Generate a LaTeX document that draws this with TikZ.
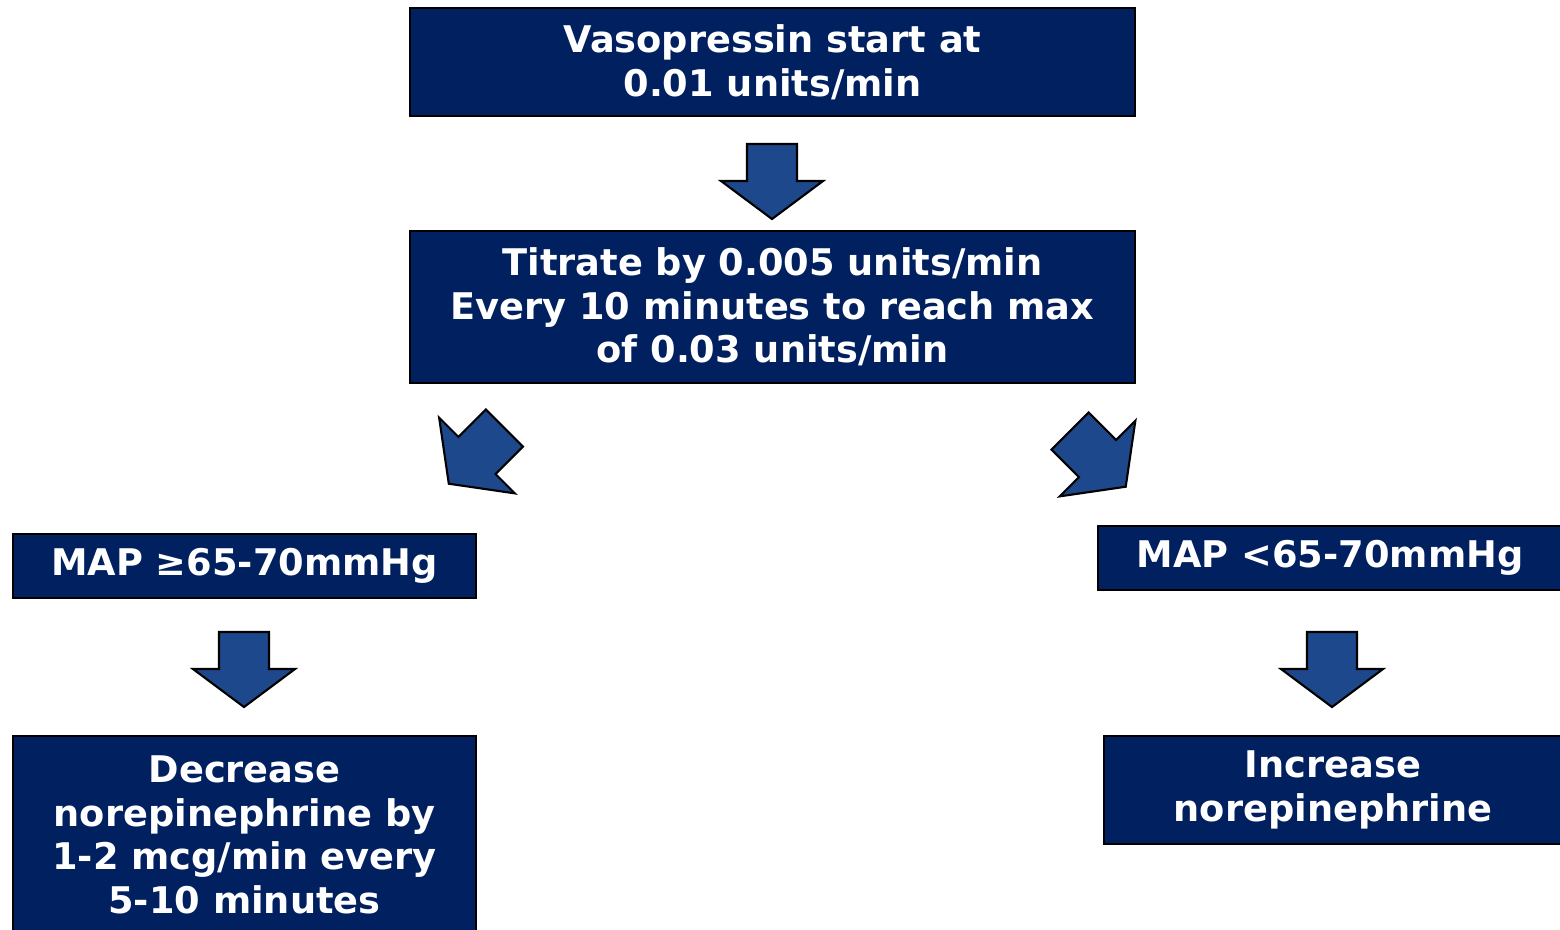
\documentclass[tikz,border=0pt]{standalone}
\usepackage{fontspec}
\setmainfont{DejaVu Sans}
\definecolor{boxnavy}{RGB}{0,32,96}
\definecolor{arrowblue}{RGB}{30,72,140}
\tikzset{
    flowbox/.style={rectangle, draw=black, fill=boxnavy, text=white, align=center,
        inner sep=0pt, font=\bfseries\fontsize{10.45}{12.4}\selectfont},
    blockdown/.pic={
        \draw[fill=arrowblue, line width=0.6pt, line join=miter]
            (-0.25,0.37) -- (0.25,0.37) -- (0.25,0) -- (0.51,0) -- (0,-0.38)
            -- (-0.51,0) -- (-0.25,0) -- cycle;
    }
}
\begin{document}
\begin{tikzpicture}[
                            >=latex
                        ]
                        \useasboundingbox (0,0) rectangle (15.6,-9.29);
                        % Blocks
                        \node [flowbox, minimum width=7.25cm, minimum height=1.08cm] (start) at (7.725,-0.62) {Vasopressin start at\\0.01 units/min};
                        \node [flowbox, minimum width=7.25cm, minimum height=1.52cm] (titrate) at (7.725,-3.07) {Titrate by 0.005 units/min\\Every 10 minutes to reach max\\of 0.03 units/min};
                        \node [flowbox, minimum width=4.63cm, minimum height=0.64cm] (mapok) at (2.445,-5.66) {MAP ≥65-70mmHg};
                        \node [flowbox, minimum width=4.64cm, minimum height=0.64cm] (maplow) at (13.30,-5.58) {MAP <65-70mmHg};
                        \node [flowbox, minimum width=4.63cm, minimum height=1.98cm] (decrease) at (2.445,-8.35) {Decrease\\norepinephrine by\\1-2 mcg/min every\\5-10 minutes};
                        \node [flowbox, minimum width=4.58cm, minimum height=1.08cm] (increase) at (13.33,-7.90) {Increase\\norepinephrine};

                        % Arrows
                        \pic at (7.72,-1.81) {blockdown};
                        \pic[rotate=-45, scale=1.05] at (4.77,-4.555) {blockdown};
                        \pic[rotate=45, scale=1.05] at (10.975,-4.585) {blockdown};
                        \pic at (2.44,-6.69) {blockdown};
                        \pic at (13.32,-6.69) {blockdown};
                    \end{tikzpicture}
\end{document}
